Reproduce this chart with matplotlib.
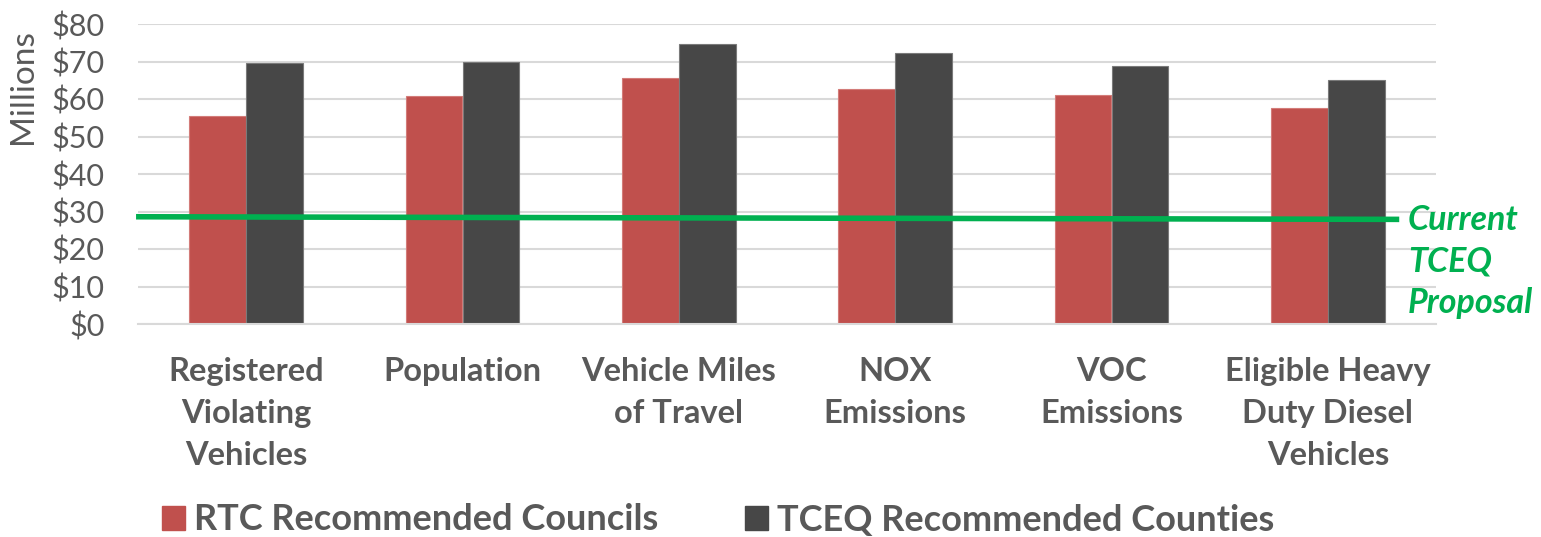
import numpy as np
import matplotlib
matplotlib.use('Agg')
import matplotlib.pyplot as plt
from matplotlib.patches import Patch

plt.rcParams['font.family'] = ['Lato', 'DejaVu Sans']

# funding by allocation method, millions of dollars
categories = ['Registered\nViolating\nVehicles', 'Population', 'Vehicle Miles\nof Travel',
              'NOX\nEmissions', 'VOC\nEmissions', 'Eligible Heavy\nDuty Diesel\nVehicles']
rtc_councils = [55.4, 60.8, 65.7, 62.8, 61.1, 57.6]
tceq_counties = [69.6, 69.9, 74.8, 72.2, 68.9, 65.1]
series_names = ['RTC Recommended Councils', 'TCEQ Recommended Counties']
proposal_start, proposal_end = 28.6, 27.9  # current TCEQ proposal line
proposal_label = ['Current', 'TCEQ', 'Proposal']
yticks = [0, 10, 20, 30, 40, 50, 60, 70, 80]

red = '#C0504D'
dark = '#474747'
grey_text = '#595959'
green = '#00B050'

fig = plt.figure(figsize=(15.41, 5.37), dpi=100)
ax = fig.add_axes([138 / 1541, 1 - 324 / 537, (1436 - 138) / 1541, 300 / 537])

x = np.arange(len(categories))
w = 0.262
ax.bar(x - w / 2, rtc_councils, w, color=red, edgecolor='#D37C79', linewidth=0.8, zorder=2)
ax.bar(x + w / 2, tceq_counties, w, color=dark, edgecolor='#7A7A7A', linewidth=0.8, zorder=2)

ax.set_xlim(-0.5, len(categories) - 0.5)
ax.set_ylim(0, 80)
ax.set_yticks(yticks)
ax.set_yticklabels(['$%d' % v for v in yticks], fontsize=22, color=grey_text)
ax.yaxis.grid(True, color='#D9D9D9', linewidth=1.5, zorder=0)
ax.set_axisbelow(True)
ax.tick_params(axis='y', length=0, pad=24)
ax.tick_params(axis='x', length=0, pad=24)
ax.set_xticks(x)
ax.set_xticklabels(categories, fontsize=23.5, fontweight='bold', color=grey_text, linespacing=1.53)
for s in ['top', 'right', 'left']:
    ax.spines[s].set_visible(False)
ax.spines['bottom'].set_color('#D9D9D9')
ax.spines['bottom'].set_linewidth(1.5)

fig.text(23 / 1541, 1 - 87 / 537, 'Millions', rotation=90, fontsize=24, color=grey_text,
         ha='center', va='center')

# current proposal line and its label
ax.plot([-0.509, 5.33], [proposal_start, proposal_end], color=green, linewidth=4,
        solid_capstyle='butt', clip_on=False, zorder=3)
for i, word in enumerate(proposal_label):
    ax.annotate(word, xy=(5.37, proposal_end), xytext=(0, -1 - 41.5 * i),
                textcoords='offset pixels', color=green, fontsize=24.5,
                fontweight='bold', fontstyle='italic', va='center', ha='left',
                annotation_clip=False)

handles = [Patch(color=red), Patch(color=dark)]
fig.legend(handles, series_names, loc='center', bbox_to_anchor=(0.466, 1 - 520 / 537),
           ncol=2, frameon=False, handlelength=0.65, handleheight=0.65, handletextpad=0.25,
           columnspacing=2.4, prop={'size': 26, 'weight': 'bold'}, labelcolor=grey_text)

fig.savefig('out.png', dpi=100)
